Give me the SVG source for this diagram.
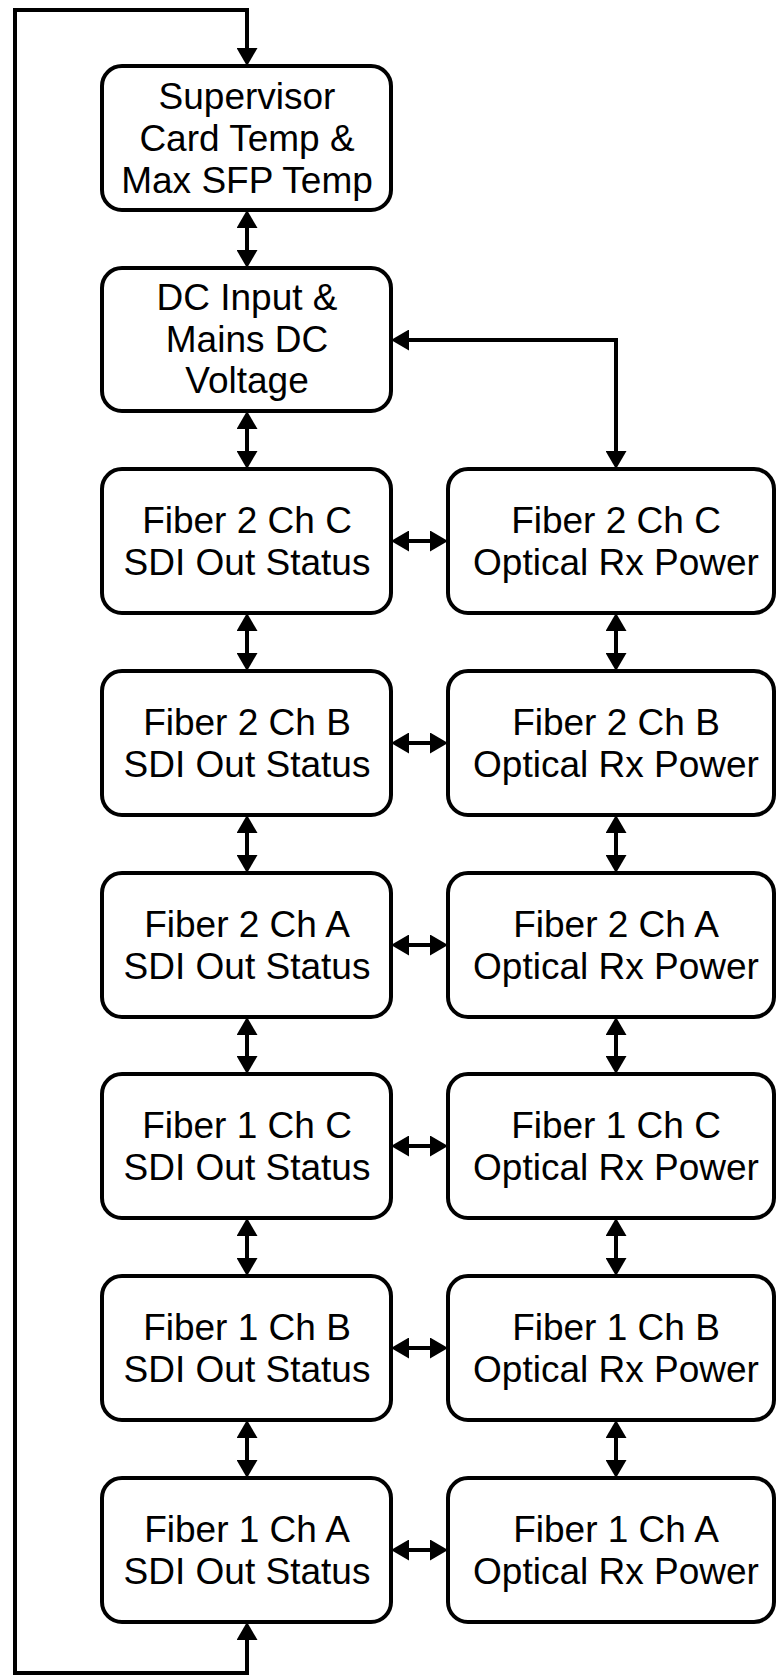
<svg xmlns="http://www.w3.org/2000/svg" width="776" height="1676" viewBox="0 0 776 1676">
<defs>
<style>
.box{fill:#fff;stroke:#000;stroke-width:4}
.t{font-family:"Liberation Sans",Arial,sans-serif;font-size:37px;fill:#000;text-anchor:middle}
.c{fill:none;stroke:#000;stroke-width:4;marker-start:url(#ah);marker-end:url(#ah)}
</style>
<marker id="ah" viewBox="0 0 18 21" refX="7" refY="10.5" markerWidth="18" markerHeight="21" markerUnits="userSpaceOnUse" orient="auto-start-reverse">
<path d="M0,0 L18,10.5 L0,21 z" fill="#000"/>
</marker>
</defs>
<rect width="776" height="1676" fill="#fff"/>
<g id="connectors">
<path class="c" d="M247 1633 V1673 H15 V10 H247 V55"/>
<path class="c" d="M247 221 V257"/>
<path class="c" d="M247 422 V458"/>
<path class="c" d="M402 340 H616 V458"/>
<path class="c" d="M247 624 V660"/>
<path class="c" d="M247 826 V862"/>
<path class="c" d="M247 1028 V1063"/>
<path class="c" d="M247 1229 V1265"/>
<path class="c" d="M247 1431 V1467"/>
<path class="c" d="M616 624 V660"/>
<path class="c" d="M616 826 V862"/>
<path class="c" d="M616 1028 V1063"/>
<path class="c" d="M616 1229 V1265"/>
<path class="c" d="M616 1431 V1467"/>
<path class="c" d="M402 541 H437"/>
<path class="c" d="M402 743 H437"/>
<path class="c" d="M402 945 H437"/>
<path class="c" d="M402 1146 H437"/>
<path class="c" d="M402 1348 H437"/>
<path class="c" d="M402 1550 H437"/>
</g>
<g id="supervisor">
<rect class="box" x="102" y="66" width="289" height="144" rx="20"/>
<text class="t" x="247" y="109">Supervisor</text>
<text class="t" x="247" y="151">Card Temp &amp;</text>
<text class="t" x="247" y="193">Max SFP Temp</text>
</g>
<g id="dc-input">
<rect class="box" x="102" y="268" width="289" height="143" rx="20"/>
<text class="t" x="247" y="310">DC Input &amp;</text>
<text class="t" x="247" y="352">Mains DC</text>
<text class="t" x="247" y="393">Voltage</text>
</g>
<g id="f2c-sdi">
<rect class="box" x="102" y="469" width="289" height="144" rx="20"/>
<text class="t" x="247" y="533">Fiber 2 Ch C</text>
<text class="t" x="247" y="575">SDI Out Status</text>
</g>
<g id="f2c-opt">
<rect class="box" x="448" y="469" width="326" height="144" rx="20"/>
<text class="t" x="616" y="533">Fiber 2 Ch C</text>
<text class="t" x="616" y="575">Optical Rx Power</text>
</g>
<g id="f2b-sdi">
<rect class="box" x="102" y="671" width="289" height="144" rx="20"/>
<text class="t" x="247" y="735">Fiber 2 Ch B</text>
<text class="t" x="247" y="777">SDI Out Status</text>
</g>
<g id="f2b-opt">
<rect class="box" x="448" y="671" width="326" height="144" rx="20"/>
<text class="t" x="616" y="735">Fiber 2 Ch B</text>
<text class="t" x="616" y="777">Optical Rx Power</text>
</g>
<g id="f2a-sdi">
<rect class="box" x="102" y="873" width="289" height="144" rx="20"/>
<text class="t" x="247" y="937">Fiber 2 Ch A</text>
<text class="t" x="247" y="979">SDI Out Status</text>
</g>
<g id="f2a-opt">
<rect class="box" x="448" y="873" width="326" height="144" rx="20"/>
<text class="t" x="616" y="937">Fiber 2 Ch A</text>
<text class="t" x="616" y="979">Optical Rx Power</text>
</g>
<g id="f1c-sdi">
<rect class="box" x="102" y="1074" width="289" height="144" rx="20"/>
<text class="t" x="247" y="1138">Fiber 1 Ch C</text>
<text class="t" x="247" y="1180">SDI Out Status</text>
</g>
<g id="f1c-opt">
<rect class="box" x="448" y="1074" width="326" height="144" rx="20"/>
<text class="t" x="616" y="1138">Fiber 1 Ch C</text>
<text class="t" x="616" y="1180">Optical Rx Power</text>
</g>
<g id="f1b-sdi">
<rect class="box" x="102" y="1276" width="289" height="144" rx="20"/>
<text class="t" x="247" y="1340">Fiber 1 Ch B</text>
<text class="t" x="247" y="1382">SDI Out Status</text>
</g>
<g id="f1b-opt">
<rect class="box" x="448" y="1276" width="326" height="144" rx="20"/>
<text class="t" x="616" y="1340">Fiber 1 Ch B</text>
<text class="t" x="616" y="1382">Optical Rx Power</text>
</g>
<g id="f1a-sdi">
<rect class="box" x="102" y="1478" width="289" height="144" rx="20"/>
<text class="t" x="247" y="1542">Fiber 1 Ch A</text>
<text class="t" x="247" y="1584">SDI Out Status</text>
</g>
<g id="f1a-opt">
<rect class="box" x="448" y="1478" width="326" height="144" rx="20"/>
<text class="t" x="616" y="1542">Fiber 1 Ch A</text>
<text class="t" x="616" y="1584">Optical Rx Power</text>
</g>
</svg>
